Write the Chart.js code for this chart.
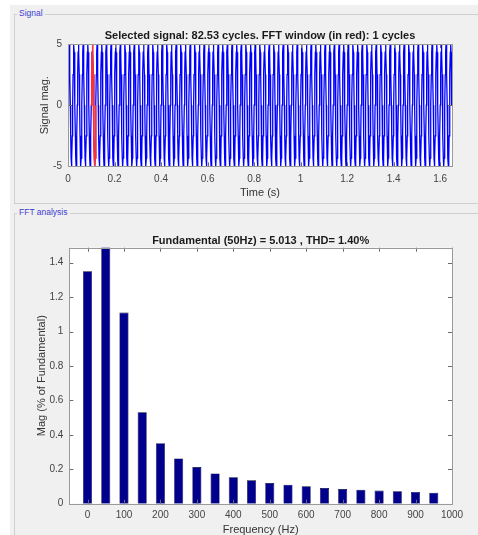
<!DOCTYPE html>
<html>
<head>
<meta charset="utf-8">
<script src="https://cdn.jsdelivr.net/npm/chart.js@4.4.1/dist/chart.umd.min.js"></script>
<style>
  html, body { margin: 0; padding: 0; background: #fff; overflow: hidden; width: 478px; height: 535px; }
  #fundo { position: absolute; left: 10px; top: 5px; right: 0; bottom: 0; background: #f0f0f0; }
  .painel { position: absolute; left: 14px; width: 480px; border: 1px solid #cfcfcf; }
  .painel span { position: absolute; left: 2px; top: -7px; background: #f0f0f0; padding: 0 2px;
    font: 8.5px "Liberation Sans", Arial, sans-serif; color: #3c3cd0; }
  canvas { position: absolute; left: 0; }
</style>
</head>
<body>
<div id="fundo"></div>
<div class="painel" style="top:14px;height:188px"><span>Signal</span></div>
<div class="painel" style="top:213px;height:400px"><span>FFT analysis</span></div>
<canvas id="graficoSinal" width="478" height="210" style="top:0"></canvas>
<canvas id="graficoFFT" width="478" height="340" style="top:210px"></canvas>
<script>
// sinal: um ciclo (12 amostras por ciclo de 50 Hz)
const umCiclo = [0, 2.5, 4.33, 5, 4.33, 2.5, 0, -2.5, -4.33, -5, -4.33, -2.5];
const freqSinal = 50;
const ciclosSinal = 82.53;
const inicioJanela = 0.1;   // janela FFT (em vermelho), s
const ciclosJanela = 1;
const ticksTempo = [0, 0.2, 0.4, 0.6, 0.8, 1, 1.2, 1.4, 1.6];
const ticksSinal = [-5, 0, 5];

// FFT
const frequencias = [0, 50, 100, 150, 200, 250, 300, 350, 400, 450, 500, 550, 600, 650, 700, 750, 800, 850, 900, 950];
const magnitudes = [1.35, 100, 1.11, 0.531, 0.351, 0.263, 0.213, 0.176, 0.153, 0.136, 0.120, 0.110, 0.101, 0.091, 0.085, 0.081, 0.076, 0.072, 0.068, 0.064];
const ticksFreq = [0, 100, 200, 300, 400, 500, 600, 700, 800, 900, 1000];
const ticksMag = [0, 0.2, 0.4, 0.6, 0.8, 1, 1.2, 1.4];

const fonte = "'Liberation Sans', Arial, Helvetica, sans-serif";
Chart.defaults.font.family = fonte;
Chart.defaults.color = "#444";

// monta pontos repetindo o ciclo lido
const dt = 1 / freqSinal / umCiclo.length;
const pontosSinal = [];
const nAmostras = Math.floor(ciclosSinal * umCiclo.length);
for (let i = 0; i <= nAmostras; i++) {
    pontosSinal.push({ x: i * dt, y: umCiclo[i % umCiclo.length] });
}
const pontosJanela = [];
const i0 = Math.round(inicioJanela / dt);
for (let i = i0; i <= i0 + ciclosJanela * umCiclo.length; i++) {
    pontosJanela.push({ x: i * dt, y: umCiclo[i % umCiclo.length] });
}

// fundo branco, caixa e ticks para dentro (estilo MATLAB)
const caixaMatlab = {
    id: "caixaMatlab",
    beforeDraw(chart) {
        const a = chart.chartArea, ctx = chart.ctx;
        ctx.save();
        ctx.fillStyle = "#fff";
        ctx.fillRect(a.left, a.top, a.right - a.left, a.bottom - a.top);
        ctx.restore();
    },
    afterDraw(chart) {
        const a = chart.chartArea, ctx = chart.ctx;
        const sx = chart.scales.x, sy = chart.scales.y;
        ctx.save();
        ctx.strokeStyle = "#6a6a6a";
        ctx.lineWidth = 1;
        ctx.beginPath();
        sx.ticks.forEach(function (t) {
            const x = Math.round(sx.getPixelForValue(t.value)) + 0.5;
            ctx.moveTo(x, a.bottom); ctx.lineTo(x, a.bottom - 4);
            ctx.moveTo(x, a.top); ctx.lineTo(x, a.top + 4);
        });
        sy.ticks.forEach(function (t) {
            const y = Math.round(sy.getPixelForValue(t.value)) + 0.5;
            ctx.moveTo(a.left, y); ctx.lineTo(a.left + 4, y);
            ctx.moveTo(a.right, y); ctx.lineTo(a.right - 4, y);
        });
        ctx.stroke();
        ctx.strokeStyle = "#9a9a9a";
        ctx.strokeRect(Math.round(a.left) + 0.5, Math.round(a.top) + 0.5,
            Math.round(a.right - a.left), Math.round(a.bottom - a.top));
        ctx.restore();
    }
};

function fixaTicks(lista) {
    return function (scale) { scale.ticks = lista.map(function (v) { return { value: v }; }); };
}

const semGrade = { display: false, drawTicks: false, tickLength: 0 };

// grafico do sinal
const ctxSinal = document.getElementById("graficoSinal").getContext("2d");
new Chart(ctxSinal, {
    type: "line",
    data: {
        datasets: [
            { data: pontosJanela, borderColor: "#ff3030", borderWidth: 1.5, pointRadius: 0, order: 0 },
            { data: pontosSinal, borderColor: "#0000ff", borderWidth: 1.3, pointRadius: 0, order: 1 }
        ]
    },
    options: {
        responsive: false,
        animation: false,
        layout: { padding: { left: 38, right: 26, top: 0, bottom: 10 } },
        plugins: {
            legend: { display: false },
            tooltip: { enabled: false },
            title: {
                display: true, fullSize: false,
                text: "Selected signal: 82.53 cycles. FFT window (in red): 1 cycles",
                color: "#1a1a1a",
                font: { size: 11, weight: "bold" },
                padding: { top: 29.4, bottom: 1.4 }
            }
        },
        scales: {
            x: {
                type: "linear", min: 0, max: ciclosSinal / freqSinal,
                grid: semGrade, border: { display: false },
                afterBuildTicks: fixaTicks(ticksTempo),
                afterFit: function (s) { s.height = 33.6; },
                ticks: { font: { size: 10 }, padding: 7, maxRotation: 0, callback: function (v) { return String(v); } },
                title: { display: true, text: "Time (s)", font: { size: 11 }, color: "#333", padding: 0 }
            },
            y: {
                min: -5, max: 5,
                grid: semGrade, border: { display: false },
                afterBuildTicks: fixaTicks(ticksSinal),
                afterFit: function (s) { s.width = 30; },
                ticks: { font: { size: 10 }, padding: 6, callback: function (v) { return String(v); } },
                title: { display: true, text: "Signal mag.", font: { size: 11 }, color: "#333", padding: 0 }
            }
        }
    },
    plugins: [caixaMatlab]
});

// grafico de barras da FFT
const ctxFFT = document.getElementById("graficoFFT").getContext("2d");
new Chart(ctxFFT, {
    type: "bar",
    data: {
        datasets: [{
            data: frequencias.map(function (f, i) { return { x: f, y: magnitudes[i] }; }),
            backgroundColor: "#00008c",
            borderColor: "#000030",
            borderWidth: 0.6,
            barPercentage: 0.5,
            categoryPercentage: 1
        }]
    },
    options: {
        responsive: false,
        animation: false,
        layout: { padding: { left: 35, right: 26, top: 0, bottom: 13.4 } },
        plugins: {
            legend: { display: false },
            tooltip: { enabled: false },
            title: {
                display: true, fullSize: false,
                text: "Fundamental (50Hz) = 5.013 , THD= 1.40%",
                color: "#1a1a1a",
                font: { size: 11, weight: "bold" },
                padding: { top: 24.1, bottom: 0.4 }
            }
        },
        scales: {
            x: {
                type: "linear", min: -50, max: 1000, offset: false,
                grid: { display: false, offset: false, drawTicks: false, tickLength: 0 }, border: { display: false },
                afterBuildTicks: fixaTicks(ticksFreq),
                afterFit: function (s) { s.height = 32.9; },
                ticks: { font: { size: 10 }, padding: 6, maxRotation: 0, callback: function (v) { return String(v); } },
                title: { display: true, text: "Frequency (Hz)", font: { size: 11 }, color: "#333", padding: 0 }
            },
            y: {
                min: 0, max: 1.487,
                grid: semGrade, border: { display: false },
                afterBuildTicks: fixaTicks(ticksMag),
                afterFit: function (s) { s.width = 34.3; },
                ticks: { font: { size: 10 }, padding: 6, callback: function (v) { return String(v); } },
                title: { display: true, text: "Mag (% of Fundamental)", font: { size: 11 }, color: "#333", padding: 0 }
            }
        }
    },
    plugins: [caixaMatlab]
});
</script>
</body>
</html>
